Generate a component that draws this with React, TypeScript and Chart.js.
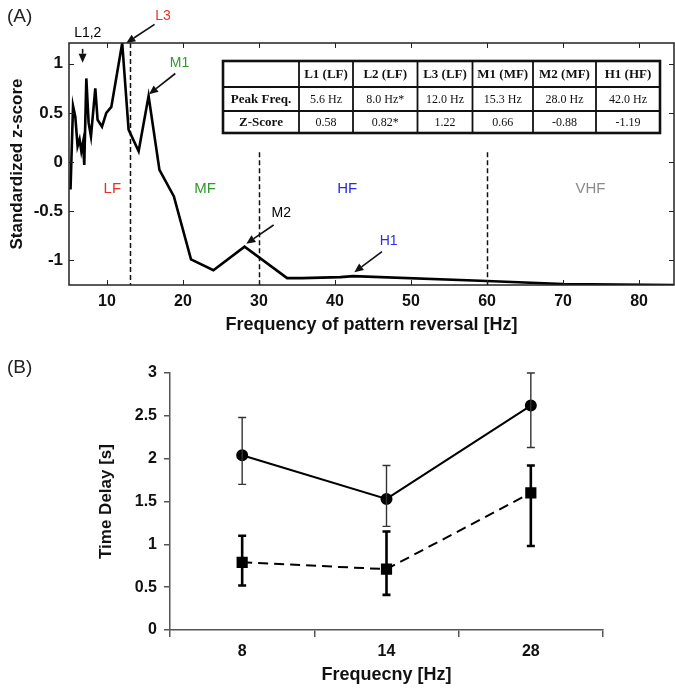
import React, { useEffect, useRef } from 'react';
import { Chart, registerables } from 'chart.js';

Chart.register(...registerables);

// ---------- Panel A data ----------
const FREQ_A = [5.2, 5.53, 5.83, 6.13, 6.39, 6.62, 6.84, 7.01, 7.28, 7.58, 7.89, 8.46, 8.76, 9.34, 9.91, 10.57, 12.0, 12.84, 14.16, 15.47, 16.9, 18.8, 21.05, 24.0, 28.1, 33.7, 35.7, 40.7, 42.4, 60, 70, 84.6];
const ZSCORE_A = [-0.28, 0.57, 0.46, 0.16, 0.23, 0.11, 0.2, -0.03, 0.85, 0.4, 0.26, 0.75, 0.43, 0.36, 0.5, 0.56, 1.21, 0.33, 0.11, 0.67, -0.08, -0.35, -0.99, -1.1, -0.86, -1.18, -1.18, -1.17, -1.16, -1.21, -1.24, -1.25];
const X_TICKS_A = [10, 20, 30, 40, 50, 60, 70, 80];
const Y_TICKS_A = [-1, -0.5, 0, 0.5, 1];
const BAND_EDGES = [13, 30, 60];
const BAND_EDGE_TOPS = [1.21, 0.1, 0.1];
const BAND_NAMES = ['LF', 'MF', 'HF', 'VHF'];
const BAND_LABEL_X = [10.7, 22.9, 41.6, 73.6];
const BAND_COLORS = ['#e53327', '#2e9a2e', '#2b2be0', '#8a8a8a'];

const PEAK_NAMES = ['L1,2', 'L3', 'M1', 'M2', 'H1'];
const PEAK_COLORS = ['#000000', '#e53327', '#2e9a2e', '#000000', '#2b2be0'];
const PEAK_TEXT_POS = [[7.47, 1.31], [17.37, 1.48], [19.55, 1.01], [32.93, -0.52], [47.05, -0.8]];
const PEAK_ARROW_TAIL = [[6.79, 1.15], [16.26, 1.4], [18.99, 0.9], [31.92, -0.64], [46.18, -0.91]];
const PEAK_ARROW_HEAD = [[6.79, 1.01], [12.54, 1.21], [15.53, 0.69], [28.33, -0.83], [42.54, -1.12]];

const TABLE_HEADERS = ['', 'L1 (LF)', 'L2 (LF)', 'L3 (LF)', 'M1 (MF)', 'M2 (MF)', 'H1 (HF)'];
const TABLE_PEAK_FREQ = ['Peak Freq.', '5.6 Hz', '8.0 Hz*', '12.0 Hz', '15.3 Hz', '28.0 Hz', '42.0 Hz'];
const TABLE_ZSCORE = ['Z-Score', '0.58', '0.82*', '1.22', '0.66', '-0.88', '-1.19'];

// ---------- Panel B data ----------
const FREQ_B = ['8', '14', '28'];
const DELAY_CIRCLE = [2.04, 1.53, 2.62];
const CIRCLE_LOW = [1.7, 1.21, 2.13];
const CIRCLE_HIGH = [2.48, 1.92, 3.0];
const DELAY_SQUARE = [0.79, 0.71, 1.6];
const SQUARE_LOW = [0.52, 0.41, 0.98];
const SQUARE_HIGH = [1.1, 1.15, 1.92];

const SANS = '"Liberation Sans", Arial, sans-serif';
const SERIF = '"Liberation Serif", "Times New Roman", serif';

// Table layout (pixels inside panel A canvas)
const TABLE_COLS = [223, 299, 353, 417.5, 472.5, 533, 596, 660];
const TABLE_ROWS = [61, 87, 111, 133];

function drawArrow(ctx: CanvasRenderingContext2D, x1: number, y1: number, x2: number, y2: number) {
  const ang = Math.atan2(y2 - y1, x2 - x1);
  const L = 9;
  const W = 4;
  const bx = x2 - L * Math.cos(ang);
  const by = y2 - L * Math.sin(ang);
  ctx.beginPath();
  ctx.moveTo(x1, y1);
  ctx.lineTo(bx, by);
  ctx.stroke();
  ctx.beginPath();
  ctx.moveTo(x2, y2);
  ctx.lineTo(bx + W * Math.sin(ang), by - W * Math.cos(ang));
  ctx.lineTo(bx - W * Math.sin(ang), by + W * Math.cos(ang));
  ctx.closePath();
  ctx.fill();
}

function drawTable(ctx: CanvasRenderingContext2D) {
  const xs = TABLE_COLS;
  const ys = TABLE_ROWS;
  ctx.save();
  ctx.fillStyle = '#ffffff';
  ctx.fillRect(xs[0], ys[0], xs[xs.length - 1] - xs[0], ys[ys.length - 1] - ys[0]);
  ctx.strokeStyle = '#111';
  ctx.lineWidth = 1.8;
  ctx.setLineDash([]);
  for (let i = 1; i < xs.length - 1; i++) {
    ctx.beginPath();
    ctx.moveTo(xs[i], ys[0]);
    ctx.lineTo(xs[i], ys[ys.length - 1]);
    ctx.stroke();
  }
  for (let j = 1; j < ys.length - 1; j++) {
    ctx.beginPath();
    ctx.moveTo(xs[0], ys[j]);
    ctx.lineTo(xs[xs.length - 1], ys[j]);
    ctx.stroke();
  }
  ctx.lineWidth = 2.6;
  ctx.strokeRect(xs[0], ys[0], xs[xs.length - 1] - xs[0], ys[ys.length - 1] - ys[0]);
  ctx.fillStyle = '#111';
  ctx.textAlign = 'center';
  ctx.textBaseline = 'middle';
  const rows = [TABLE_HEADERS, TABLE_PEAK_FREQ, TABLE_ZSCORE];
  rows.forEach((row, r) => {
    const cy = (ys[r] + ys[r + 1]) / 2 + 1;
    row.forEach((txt, c) => {
      const cx = (xs[c] + xs[c + 1]) / 2;
      const bold = r === 0 || c === 0;
      ctx.font = bold ? `bold 13px ${SERIF}` : `12px ${SERIF}`;
      ctx.fillText(txt, cx, cy);
    });
  });
  ctx.restore();
}

const panelAPlugin = {
  id: 'panelA',
  beforeDatasetsDraw(chart: any) {
    const { ctx, chartArea: ca, scales } = chart;
    const xs = scales.x;
    const ys = scales.y;
    ctx.save();
    ctx.strokeStyle = '#111';
    ctx.lineWidth = 1.5;
    ctx.setLineDash([5, 3]);
    BAND_EDGES.forEach((f, i) => {
      const px = Math.round(xs.getPixelForValue(f)) + 0.5;
      ctx.beginPath();
      ctx.moveTo(px, ys.getPixelForValue(BAND_EDGE_TOPS[i]));
      ctx.lineTo(px, ca.bottom);
      ctx.stroke();
    });
    ctx.setLineDash([]);
    ctx.font = `15px ${SANS}`;
    ctx.textAlign = 'center';
    ctx.textBaseline = 'middle';
    BAND_NAMES.forEach((n, i) => {
      ctx.fillStyle = BAND_COLORS[i];
      ctx.fillText(n, xs.getPixelForValue(BAND_LABEL_X[i]), ys.getPixelForValue(-0.27));
    });
    ctx.restore();
  },
  afterDraw(chart: any) {
    const { ctx, chartArea: ca, scales } = chart;
    const xs = scales.x;
    const ys = scales.y;
    ctx.save();
    ctx.strokeStyle = '#222';
    ctx.lineWidth = 1.5;
    ctx.strokeRect(ca.left, ca.top, ca.right - ca.left, ca.bottom - ca.top);
    ctx.lineWidth = 1;
    X_TICKS_A.forEach((v) => {
      const px = Math.round(xs.getPixelForValue(v)) + 0.5;
      ctx.beginPath();
      ctx.moveTo(px, ca.bottom);
      ctx.lineTo(px, ca.bottom - 5);
      ctx.moveTo(px, ca.top);
      ctx.lineTo(px, ca.top + 5);
      ctx.stroke();
    });
    Y_TICKS_A.forEach((v) => {
      const py = Math.round(ys.getPixelForValue(v)) + 0.5;
      ctx.beginPath();
      ctx.moveTo(ca.left, py);
      ctx.lineTo(ca.left + 5, py);
      ctx.moveTo(ca.right, py);
      ctx.lineTo(ca.right - 5, py);
      ctx.stroke();
    });
    ctx.font = `14px ${SANS}`;
    ctx.textAlign = 'center';
    ctx.textBaseline = 'middle';
    ctx.lineWidth = 1.6;
    PEAK_NAMES.forEach((n, i) => {
      ctx.fillStyle = PEAK_COLORS[i];
      ctx.fillText(n, xs.getPixelForValue(PEAK_TEXT_POS[i][0]), ys.getPixelForValue(PEAK_TEXT_POS[i][1]));
      ctx.strokeStyle = '#111';
      ctx.fillStyle = '#111';
      drawArrow(
        ctx,
        xs.getPixelForValue(PEAK_ARROW_TAIL[i][0]),
        ys.getPixelForValue(PEAK_ARROW_TAIL[i][1]),
        xs.getPixelForValue(PEAK_ARROW_HEAD[i][0]),
        ys.getPixelForValue(PEAK_ARROW_HEAD[i][1])
      );
    });
    drawTable(ctx);
    ctx.fillStyle = '#222';
    ctx.font = `19px ${SANS}`;
    ctx.textAlign = 'left';
    ctx.textBaseline = 'middle';
    ctx.fillText('(A)', 7, 17);
    ctx.restore();
  },
};

const panelBPlugin = {
  id: 'panelB',
  afterDatasetsDraw(chart: any) {
    const { ctx, scales } = chart;
    const xs = scales.x;
    const ys = scales.y;
    ctx.save();
    const groups = [
      { lo: CIRCLE_LOW, hi: CIRCLE_HIGH, w: 1.4, color: '#333' },
      { lo: SQUARE_LOW, hi: SQUARE_HIGH, w: 2.6, color: '#000' },
    ];
    groups.forEach((g) => {
      ctx.strokeStyle = g.color;
      ctx.lineWidth = g.w;
      FREQ_B.forEach((_, i) => {
        const px = xs.getPixelForValue(i);
        const yl = ys.getPixelForValue(g.lo[i]);
        const yh = ys.getPixelForValue(g.hi[i]);
        ctx.beginPath();
        ctx.moveTo(px, yl);
        ctx.lineTo(px, yh);
        ctx.moveTo(px - 4, yl);
        ctx.lineTo(px + 4, yl);
        ctx.moveTo(px - 4, yh);
        ctx.lineTo(px + 4, yh);
        ctx.stroke();
      });
    });
    ctx.restore();
  },
  afterDraw(chart: any) {
    const { ctx } = chart;
    ctx.save();
    ctx.fillStyle = '#222';
    ctx.font = `19px ${SANS}`;
    ctx.textAlign = 'left';
    ctx.textBaseline = 'middle';
    ctx.fillText('(B)', 7, 28);
    ctx.restore();
  },
};

const plainLabel = (v: any) => String(v);

function PanelA() {
  const ref = useRef<HTMLCanvasElement>(null);
  useEffect(() => {
    const chart = new Chart(ref.current as HTMLCanvasElement, {
      type: 'line',
      data: {
        datasets: [
          {
            data: FREQ_A.map((f, i) => ({ x: f, y: ZSCORE_A[i] })),
            borderColor: '#000',
            borderWidth: 2.6,
            pointRadius: 0,
            tension: 0,
            fill: false,
          },
        ],
      },
      options: {
        responsive: false,
        animation: false,
        devicePixelRatio: 1,
        layout: { padding: { left: 0, right: 1, top: 43, bottom: 0 } },
        plugins: { legend: { display: false }, tooltip: { enabled: false } },
        scales: {
          x: {
            type: 'linear',
            min: 5,
            max: 84.6,
            afterBuildTicks: (s: any) => {
              s.ticks = X_TICKS_A.map((v) => ({ value: v }));
            },
            afterFit: (s: any) => {
              s.height = 55;
            },
            grid: { display: false, drawTicks: false },
            border: { display: false },
            ticks: { callback: plainLabel, color: '#111', font: { family: SANS, size: 16, weight: 'bold' }, padding: 7, maxRotation: 0 },
            title: {
              display: true,
              text: 'Frequency of pattern reversal [Hz]',
              color: '#111',
              font: { family: SANS, size: 18, weight: 'bold' },
              padding: { top: 0, bottom: 4 },
            },
          },
          y: {
            type: 'linear',
            min: -1.25,
            max: 1.21,
            afterBuildTicks: (s: any) => {
              s.ticks = Y_TICKS_A.map((v) => ({ value: v }));
            },
            afterFit: (s: any) => {
              s.width = 69;
            },
            grid: { display: false, drawTicks: false },
            border: { display: false },
            ticks: { callback: plainLabel, color: '#111', font: { family: SANS, size: 17, weight: 'bold' }, padding: 6 },
            title: {
              display: true,
              text: 'Standardized z-score',
              color: '#111',
              font: { family: SANS, size: 17, weight: 'bold' },
              padding: { top: 7, bottom: 0 },
            },
          },
        },
      },
      plugins: [panelAPlugin],
    } as any);
    return () => chart.destroy();
  }, []);
  return <canvas ref={ref} width={675} height={340} style={{ position: 'absolute', left: 0, top: 0, width: 675, height: 340 }} />;
}

function PanelB() {
  const ref = useRef<HTMLCanvasElement>(null);
  useEffect(() => {
    const chart = new Chart(ref.current as HTMLCanvasElement, {
      type: 'line',
      data: {
        labels: FREQ_B,
        datasets: [
          {
            data: DELAY_CIRCLE,
            borderColor: '#000',
            backgroundColor: '#000',
            borderWidth: 2,
            pointStyle: 'circle',
            pointRadius: 5,
            tension: 0,
            fill: false,
          },
          {
            data: DELAY_SQUARE,
            borderColor: '#000',
            backgroundColor: '#000',
            borderWidth: 2,
            borderDash: [10, 6],
            pointStyle: 'rect',
            pointRadius: 6.5,
            tension: 0,
            fill: false,
          },
        ],
      },
      options: {
        responsive: false,
        animation: false,
        devicePixelRatio: 1,
        layout: { padding: { left: 0, right: 72, top: 33, bottom: 0 } },
        plugins: { legend: { display: false }, tooltip: { enabled: false } },
        scales: {
          x: {
            type: 'category',
            offset: true,
            afterFit: (s: any) => {
              s.height = 59;
            },
            grid: { display: true, drawOnChartArea: false, drawTicks: true, tickLength: 7, color: '#555', lineWidth: 1.5, offset: true },
            border: { display: true, color: '#555', width: 1.5 },
            ticks: { color: '#111', font: { family: SANS, size: 16, weight: 'bold' }, padding: 5 },
            title: {
              display: true,
              text: 'Frequecny [Hz]',
              color: '#111',
              font: { family: SANS, size: 18, weight: 'bold' },
              padding: { top: 0, bottom: 3 },
            },
          },
          y: {
            type: 'linear',
            min: 0,
            max: 3,
            afterFit: (s: any) => {
              s.width = 170;
            },
            grid: { display: true, drawOnChartArea: false, drawTicks: true, tickLength: 6, color: '#555', lineWidth: 1.5 },
            border: { display: true, color: '#555', width: 1.5 },
            ticks: { stepSize: 0.5, callback: plainLabel, color: '#111', font: { family: SANS, size: 16, weight: 'bold' }, padding: 7 },
            title: {
              display: true,
              text: 'Time Delay [s]',
              color: '#111',
              font: { family: SANS, size: 17, weight: 'bold' },
              padding: { top: 96, bottom: 0 },
            },
          },
        },
      },
      plugins: [panelBPlugin],
    } as any);
    return () => chart.destroy();
  }, []);
  return <canvas ref={ref} width={675} height={349} style={{ position: 'absolute', left: 0, top: 340, width: 675, height: 349 }} />;
}

export default function App() {
  return (
    <div style={{ position: 'absolute', left: 0, top: 0, width: 675, height: 689, background: '#fff', overflow: 'hidden' }}>
      <PanelA />
      <PanelB />
    </div>
  );
}
